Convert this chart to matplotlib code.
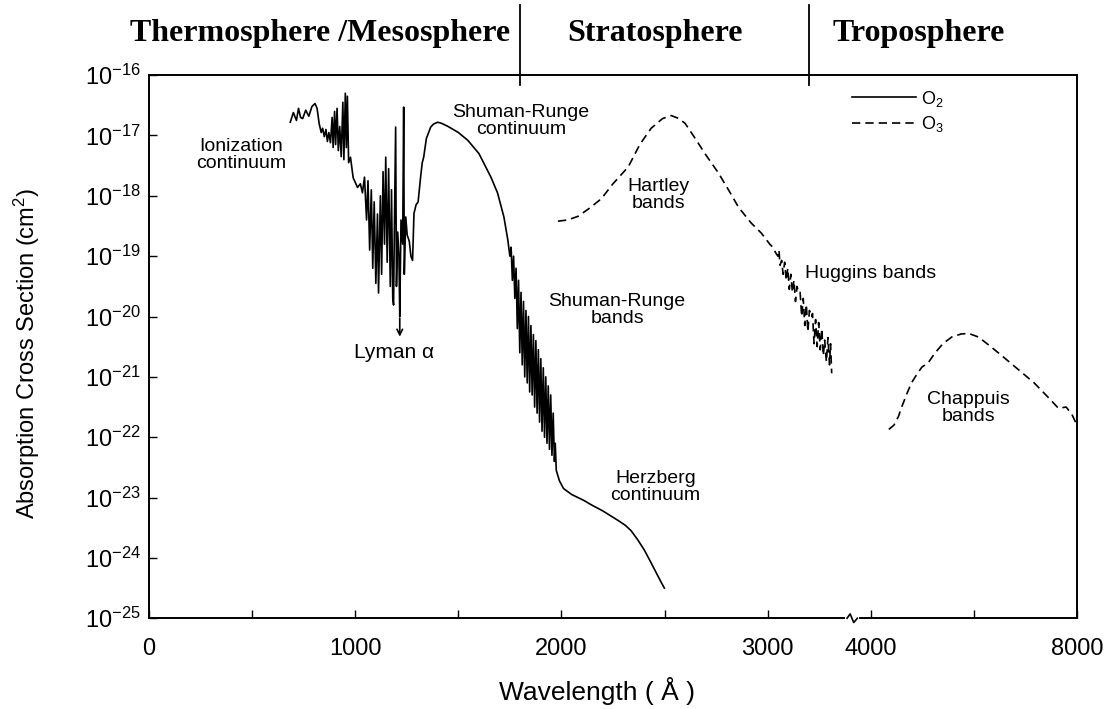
import matplotlib
matplotlib.use("Agg")
import matplotlib.pyplot as plt
import matplotlib.transforms as mtransforms
import numpy as np

plt.rcParams['font.family'] = ['Liberation Sans', 'DejaVu Sans']
plt.rcParams['mathtext.fontset'] = 'custom'
plt.rcParams['mathtext.rm'] = 'Liberation Sans'
plt.rcParams['mathtext.it'] = 'Liberation Sans:italic'
plt.rcParams['mathtext.bf'] = 'Liberation Sans:bold'
plt.rcParams['mathtext.default'] = 'regular'

# O2 absorption cross section, wavelength (A) and log10(sigma / cm2)
o2_wl = [685, 700, 715, 725, 735, 745, 760, 775, 790, 805, 815, 825, 835, 842, 850,
         858, 865, 872, 880, 888, 893, 900, 905, 912, 918, 925, 932, 940, 945, 952,
         957, 962, 968, 977, 990, 1011, 1025, 1035, 1045, 1055, 1062, 1070, 1078, 1085,
         1092, 1100, 1108, 1113, 1122, 1128, 1135, 1142, 1148, 1155, 1162, 1170, 1176,
         1182, 1186, 1190, 1196, 1200, 1206, 1212, 1216, 1222, 1230, 1235, 1238, 1245,
         1252, 1262, 1270, 1278, 1285, 1295, 1305, 1317, 1325, 1332, 1345, 1366, 1380,
         1400, 1420, 1450, 1500, 1546, 1600, 1658, 1690, 1721, 1740,
         1750, 1756, 1762, 1768, 1774, 1780, 1786, 1792, 1798, 1804, 1810, 1816, 1822,
         1828, 1834, 1840, 1846, 1852, 1858, 1864, 1870, 1876, 1882, 1888, 1894, 1900,
         1906, 1912, 1918, 1924, 1930, 1936, 1942, 1948, 1954, 1960, 1966, 1970, 1975,
         1990, 2010, 2050, 2110, 2150, 2200, 2275, 2310, 2338, 2370, 2402, 2430, 2460,
         2480, 2499]
o2_log = [-16.78, -16.62, -16.75, -16.55, -16.70, -16.72, -16.58, -16.68, -16.52, -16.47,
          -16.55, -16.80, -16.95, -16.88, -17.02, -16.90, -17.10, -16.95, -17.12, -16.70,
          -17.20, -16.60, -17.15, -16.55, -17.25, -16.85, -17.35, -16.45, -17.40, -16.30,
          -17.20, -16.35, -17.45, -17.36, -17.70, -17.86, -17.80, -17.95, -17.69, -18.40,
          -17.75, -18.90, -17.90, -19.20, -18.10, -19.45, -18.30, -19.61, -18.00, -19.30,
          -17.60, -18.80, -17.36, -19.10, -17.55, -19.50, -17.90, -19.70, -19.81, -18.50,
          -16.86, -19.50, -18.60, -19.00, -20.00, -18.40, -18.80, -16.53, -19.30, -18.35,
          -18.65, -18.75, -19.00, -19.07, -18.29, -18.15, -18.10, -17.69, -17.45, -17.36,
          -17.05, -16.86, -16.81, -16.78, -16.80, -16.85, -16.95, -17.08, -17.30, -17.69,
          -17.95, -18.35, -18.73,
          -19.00, -18.85, -19.40, -19.00, -19.70, -19.20, -20.20, -19.40, -20.60, -19.60,
          -20.80, -19.75, -21.00, -19.90, -21.10, -20.00, -21.25, -20.15, -21.30, -20.30,
          -21.50, -20.40, -21.60, -20.55, -21.75, -20.70, -21.90, -20.85, -22.00, -21.00,
          -22.10, -21.15, -22.20, -21.30, -22.30, -21.60, -22.40, -22.10, -22.55,
          -22.72, -22.85, -22.95, -23.05, -23.13, -23.22, -23.38, -23.46, -23.55, -23.70,
          -23.87, -24.05, -24.25, -24.38, -24.50]

# O3 absorption cross section (Hartley, Huggins, Chappuis)
o3_wl = [1983, 2030, 2080, 2130, 2193, 2250, 2324, 2380, 2435, 2490, 2533, 2570, 2600,
         2645, 2700, 2761, 2810, 2859, 2920, 2970, 3020, 3050, 3080, 3100, 3110, 3120,
         3136, 3150, 3165, 3180, 3195, 3210, 3225, 3240, 3255, 3270, 3285, 3301, 3315,
         3330, 3345, 3360, 3375, 3390, 3405, 3427, 3435, 3450, 3465, 3480, 3495, 3510,
         3525, 3540, 3553, 3570, 3585, 3600, 3610, 3621]
o3_log = [-18.42, -18.40, -18.34, -18.22, -18.05, -17.80, -17.52, -17.15, -16.88, -16.72,
          -16.67, -16.72, -16.80, -17.03, -17.32, -17.62, -17.90, -18.19, -18.45, -18.62,
          -18.80, -18.85, -18.95, -19.00, -18.90, -19.15, -19.07, -19.30, -19.10, -19.40,
          -19.20, -19.55, -19.30, -19.60, -19.40, -19.75, -19.50, -19.61, -19.60, -20.00,
          -19.70, -20.15, -19.80, -20.25, -19.90, -20.01, -19.95, -20.45, -20.05, -20.50,
          -20.10, -20.55, -20.20, -20.65, -20.39, -20.75, -20.35, -20.80, -20.45, -20.94]
o3_chap_wl = [4350, 4450, 4540, 4600, 4700, 4790, 4900, 4990, 5120, 5240, 5400, 5570,
              5750, 5900, 6090, 6300, 6530, 6850, 7170, 7420, 7640, 7790, 7900, 7990]
o3_chap_log = [-21.87, -21.80, -21.65, -21.50, -21.28, -21.10, -20.95, -20.84, -20.76,
               -20.61, -20.45, -20.34, -20.29, -20.28, -20.34, -20.48, -20.64, -20.87,
               -21.10, -21.32, -21.52, -21.50, -21.62, -21.78]

xtick_major = [0, 1000, 2000, 3000, 4000, 8000]
xtick_minor = [500, 1500, 2500, 6000]
ytick_exp = list(range(-25, -15))
regions = ['Thermosphere /Mesosphere', 'Stratosphere', 'Troposphere']
region_bounds = [1800, 3400]

# broken wavelength axis: 3000-4000 at half scale, 4000-8000 at quarter scale
wl_pts = [0, 3000, 4000, 8000]
ax_pts = [0, 3000, 3500, 4500]

def fwd(x):
    return np.interp(x, wl_pts, ax_pts)

def inv(x):
    return np.interp(x, ax_pts, wl_pts)


fig = plt.figure(figsize=(11.12, 7.09), dpi=100)
ax = fig.add_axes([0.134, 0.128, 0.8345, 0.766])
ax.set_xscale('function', functions=(fwd, inv))
ax.set_yscale('log')
ax.set_xlim(0, 8000)
ax.set_ylim(1e-25, 1e-16)

ax.plot(o2_wl, 10.0 ** np.array(o2_log), color='black', lw=1.2, label='O$_2$')
ax.plot(o3_wl, 10.0 ** np.array(o3_log), color='black', lw=1.2,
        ls=(0, (5, 3)), label='O$_3$')
ax.plot(o3_chap_wl, 10.0 ** np.array(o3_chap_log), color='black', lw=1.2,
        ls=(0, (5, 3)))

ax.set_xticks(xtick_major)
ax.set_xticklabels([str(t) for t in xtick_major])
ax.set_xticks(xtick_minor, minor=True)
ax.set_yticks([10.0 ** k for k in ytick_exp])
ax.set_yticklabels(['$10^{%d}$' % k for k in ytick_exp])
ax.yaxis.set_minor_locator(matplotlib.ticker.NullLocator())
ax.tick_params(axis='both', which='both', direction='in', length=6, width=1,
               labelsize=17)
ax.tick_params(axis='x', pad=14)
ax.tick_params(axis='y', pad=6)
for s in ax.spines.values():
    s.set_linewidth(1.4)

ax.set_xlabel('Wavelength ( Å )', fontsize=19)
ax.xaxis.set_label_coords(0.483, -0.108)
ax.set_ylabel('Absorption Cross Section (cm$^2$)', fontsize=17)
ax.yaxis.set_label_coords(-0.115, 0.488)

# axis break mark
bt = mtransforms.blended_transform_factory(ax.transData, ax.transAxes)
ax.plot([3770, 3870], [0, 0], color='white', lw=3, transform=bt, clip_on=False, zorder=5)
ax.plot([3770, 3800, 3835, 3870], [0, 0.008, -0.008, 0], color='black', lw=1.2,
        transform=bt, clip_on=False, zorder=6)

# region separators above the plot
for b in region_bounds:
    ax.plot([b, b], [0.982, 1.129], color='black', lw=1.3, transform=bt, clip_on=False)
for name, xc in zip(regions, [0.288, 0.589, 0.826]):
    fig.text(xc, 0.953, name, family='Liberation Serif', weight='bold', fontsize=23,
             ha='center', va='center')

notes = [('Ionization\ncontinuum', 447, -17.33),
         ('Shuman-Runge\ncontinuum', 1804, -16.76),
         ('Hartley\nbands', 2470, -17.99),
         ('Shuman-Runge\nbands', 2270, -19.90),
         ('Herzberg\ncontinuum', 2455, -22.83),
         ('Chappuis\nbands', 5896, -21.52)]
for txt, x, ly in notes:
    ax.text(x, 10.0 ** ly, txt, fontsize=14, ha='center', va='center', linespacing=1.0)
ax.text(3360, 10.0 ** -19.28, 'Huggins bands', fontsize=14, ha='left', va='center')
ax.text(1186, 10.0 ** -20.59, 'Lyman α', fontsize=15, ha='center', va='center')
ax.annotate('', xy=(1216, 10.0 ** -20.38), xytext=(1216, 10.0 ** -19.98),
            arrowprops=dict(arrowstyle='->', color='black', lw=1.2))

ax.legend(loc='upper left', bbox_to_anchor=(0.758, 0.975), frameon=False, fontsize=13,
          handlelength=3.5, handletextpad=0.3, borderpad=0, borderaxespad=0,
          labelspacing=0.3)

fig.savefig('out.png', dpi=100)
